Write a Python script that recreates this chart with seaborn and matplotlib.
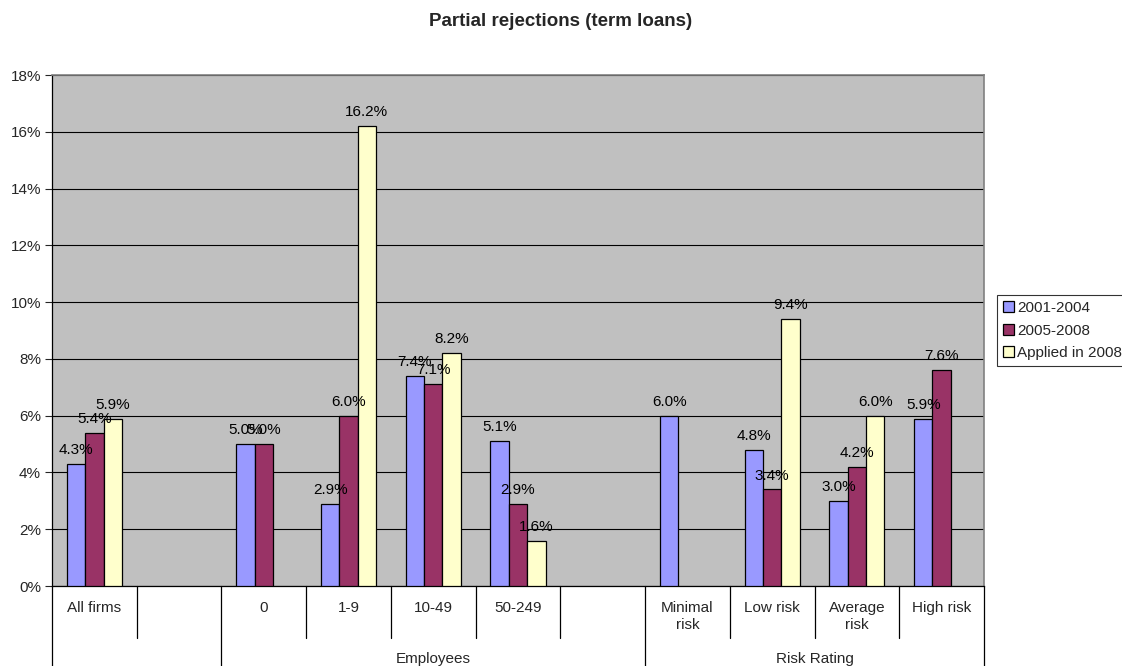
import numpy as np
import pandas as pd
import matplotlib
matplotlib.use('Agg')
import matplotlib.pyplot as plt
import matplotlib.transforms as mtransforms
from matplotlib.ticker import FuncFormatter
import seaborn as sns

# category keys (blanks are empty slots in the chart)
categories = ['All firms', 'gap1', '0', '1-9', '10-49', '50-249', 'gap2',
              'Minimal risk', 'Low risk', 'Average risk', 'High risk']
tick_labels = ['All firms', '', '0', '1-9', '10-49', '50-249', '',
               'Minimal\nrisk', 'Low risk', 'Average\nrisk', 'High risk']
groups = [('', 0, 1), ('Employees', 2, 6), ('Risk Rating', 7, 10)]

series = ['2001-2004', '2005-2008', 'Applied in 2008']
s2001_2004 = [4.3, np.nan, 5.0, 2.9, 7.4, 5.1, np.nan, 6.0, 4.8, 3.0, 5.9]
s2005_2008 = [5.4, np.nan, 5.0, 6.0, 7.1, 2.9, np.nan, np.nan, 3.4, 4.2, 7.6]
s_applied_2008 = [5.9, np.nan, np.nan, 16.2, 8.2, 1.6, np.nan, np.nan, 9.4, 6.0, np.nan]

colors = ['#9999FF', '#993366', '#FFFFCC']

rows = []
for name, vals in zip(series, [s2001_2004, s2005_2008, s_applied_2008]):
    for c, v in zip(categories, vals):
        rows.append({'category': c, 'series': name, 'value': v})
df = pd.DataFrame(rows).dropna()

sns.set_style('white')
plt.rcParams['font.family'] = ['Liberation Sans', 'DejaVu Sans']
fs = 11

fig = plt.figure(figsize=(11.22, 6.66), dpi=100)
top, bot, left, right = 75, 586, 52, 984
ax = fig.add_axes([left / 1122, 1 - bot / 666, (right - left) / 1122, (bot - top) / 666])
ax.set_facecolor('#C0C0C0')

sns.barplot(data=df, x='category', y='value', hue='series', order=categories,
            hue_order=series, palette=colors, edgecolor='black', linewidth=0.9,
            width=0.65, saturation=1, ax=ax, zorder=3)

for cont in ax.containers:
    ax.bar_label(cont, labels=[f'{v:.1f}%' for v in cont.datavalues],
                 padding=5, fontsize=fs, color='black', zorder=4)

ax.set_ylim(0, 18)
ax.set_xlim(-0.5, len(categories) - 0.5)
ax.set_yticks(np.arange(0, 19, 2))
ax.yaxis.set_major_formatter(FuncFormatter(lambda v, p: f'{v:.0f}%'))
ax.tick_params(axis='y', left=True, length=5, width=0.8, labelsize=fs, pad=3)
ax.set_xticks([])
ax.set_xlabel('')
ax.set_ylabel('')
ax.yaxis.grid(True, color='black', linewidth=0.8, zorder=0)
ax.set_axisbelow(True)
for side in ['top', 'right']:
    ax.spines[side].set_color('#808080')
    ax.spines[side].set_linewidth(1.2)
for side in ['left', 'bottom']:
    ax.spines[side].set_color('black')
    ax.spines[side].set_linewidth(0.9)

# multi-level category axis below the plot
h = bot - top
trans = mtransforms.blended_transform_factory(ax.transData, ax.transAxes)
level1 = -52 / h
level2 = -82 / h
group_edges = set()
for _, a, b in groups:
    group_edges.add(a - 0.5)
    group_edges.add(b + 0.5)
for i in range(len(categories) + 1):
    x = i - 0.5
    bottom = level2 if x in group_edges else level1
    ax.plot([x, x], [0, bottom], transform=trans, color='black', lw=0.9, clip_on=False)
for i, lab in enumerate(tick_labels):
    ax.text(i, -15 / h, lab, transform=trans, ha='center', va='top',
            fontsize=fs, linespacing=1.25)
for name, a, b in groups:
    if name:
        ax.text((a + b) / 2, -73 / h, name, transform=trans, ha='center',
                va='center', fontsize=fs)

fig.text(0.5, 1 - 21 / 666, 'Partial rejections (term loans)', ha='center',
         va='center', fontsize=13.5, fontweight='bold')

leg = ax.legend(loc='upper left', bbox_to_anchor=(997 / 1122, 1 - 295 / 666),
                bbox_transform=fig.transFigure, frameon=True, fancybox=False,
                edgecolor='black', fontsize=fs, handlelength=0.7, handleheight=0.7,
                handletextpad=0.2, borderpad=0.4, labelspacing=0.55, borderaxespad=0)
leg.get_frame().set_linewidth(0.8)
leg.set_title(None)

fig.savefig('out.png', dpi=100)
